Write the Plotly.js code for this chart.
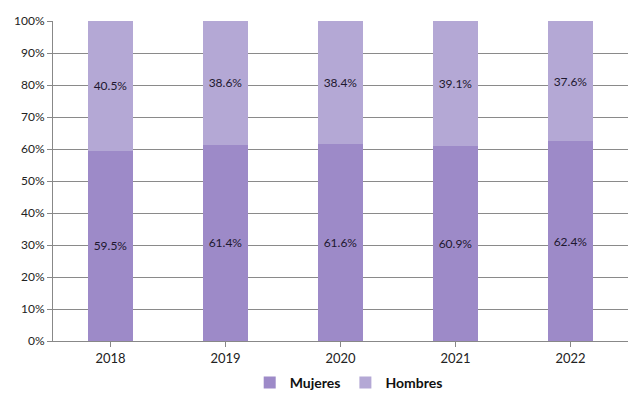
<!DOCTYPE html>
<html><head><meta charset="utf-8">
<script src="https://cdn.plot.ly/plotly-3.0.1.min.js"></script>
<style>body{margin:0;background:#fff}#c{width:634px;height:403px}</style>
</head><body><div id="c"></div>
<script>
const years = ['2018','2019','2020','2021','2022'];
const mujeres = [59.5, 61.4, 61.6, 60.9, 62.4];
const hombres = [40.5, 38.6, 38.4, 39.1, 37.6];
const fnt = {family:'Lato, "Open Sans", sans-serif', size:12, color:'#222'};
const mk = (name, vals, color) => ({
  type:'bar', name:name, x:years, y:vals, marker:{color:color},
  text: vals.map(v => v.toFixed(1)+'%'), textposition:'inside', insidetextanchor:'middle',
  textfont:{family:fnt.family, size:12, color:'#1e1830'}, hoverinfo:'skip'
});
const data = [mk('Mujeres', mujeres, '#9d8ac8'), mk('Hombres', hombres, '#b4a8d5')];
const layout = {
  width:634, height:403, barmode:'stack', bargap:0.61,
  margin:{l:53, r:6, t:21, b:62},
  paper_bgcolor:'#fff', plot_bgcolor:'#fff', font:fnt,
  xaxis:{showline:true, linecolor:'#888', linewidth:1, ticks:'outside', tickson:'boundaries',
    ticklen:5, tickcolor:'#888', tickfont:{family:fnt.family, size:13, color:'#222'}, automargin:false},
  yaxis:{range:[0,100], dtick:10, ticksuffix:'%', showgrid:true, gridcolor:'#8a8a8a', gridwidth:1,
    showline:true, linecolor:'#888', ticks:'outside', ticklen:5, tickcolor:'#888',
    tickfont:{family:fnt.family, size:12, color:'#222'}, zeroline:false, automargin:false},
  legend:{orientation:'h', x:0.55, xref:'container', xanchor:'center', y:0.05, yref:'container', yanchor:'middle',
    font:{family:fnt.family, size:14, weight:'bold', color:'#111'}, traceorder:'normal',
    itemwidth:30, tracegroupgap:0},
  showlegend:true
};
Plotly.newPlot('c', data, layout, {displayModeBar:false});
</script></body></html>
